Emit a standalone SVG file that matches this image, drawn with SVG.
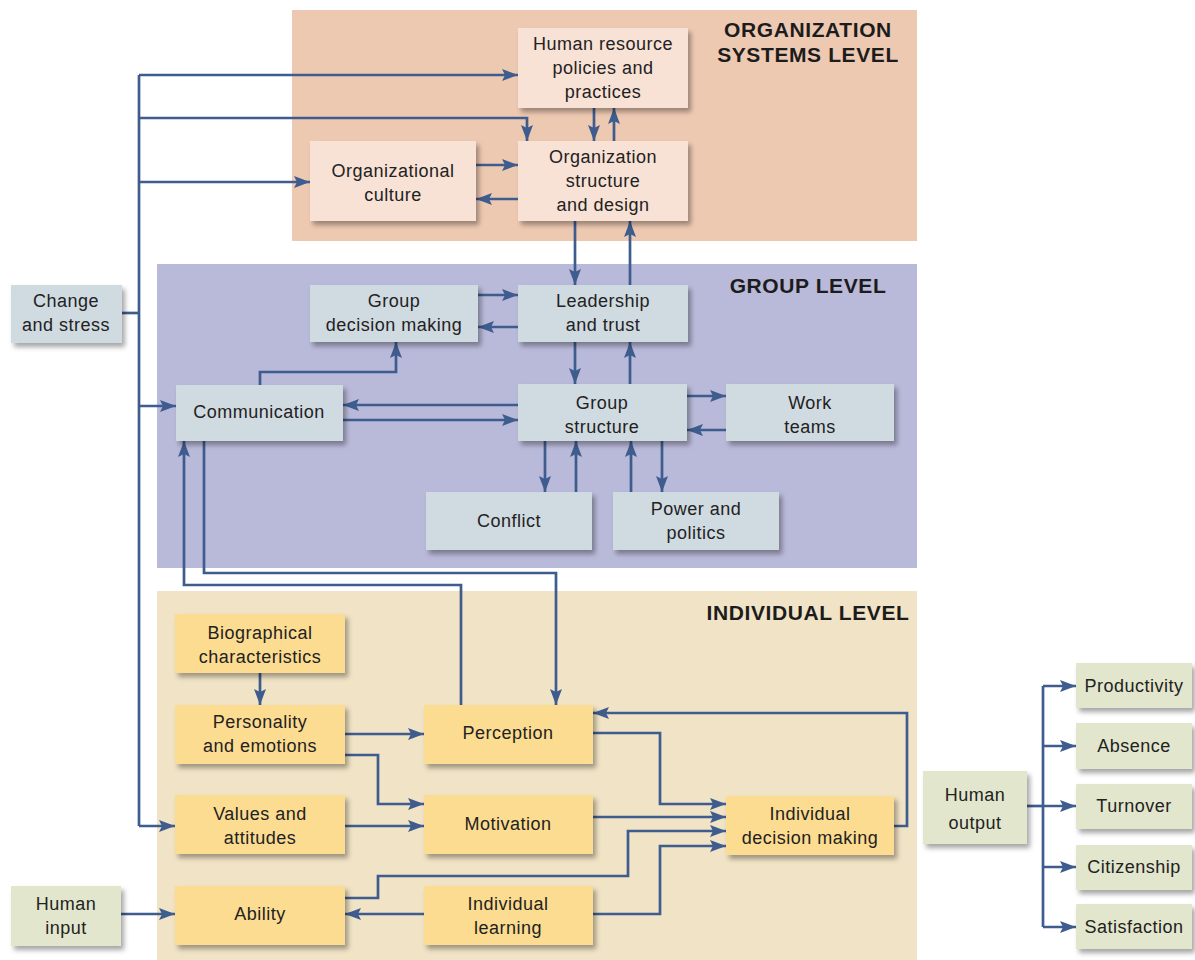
<svg xmlns="http://www.w3.org/2000/svg" width="1195" height="960" viewBox="0 0 1195 960">
  <style>
    .panel-org { fill: #EEC9B2; }
    .panel-grp { fill: #B9B9D9; }
    .panel-ind { fill: #F1E3C5; }
    .n-org rect { fill: #F8E1D5; }
    .n-grp rect { fill: #D0DAE1; }
    .n-ind rect { fill: #FCDC90; }
    .n-io rect { fill: #E2E6CC; }
    .node rect { filter: url(#shadow); }
    .node text { font-family: "Liberation Sans", Arial, sans-serif; font-size: 18px; fill: #222; text-anchor: middle; letter-spacing: 0.5px; }
    .title { font-family: "Liberation Sans", Arial, sans-serif; font-size: 21px; font-weight: bold; fill: #1c1c1c; text-anchor: middle; letter-spacing: 0.6px; }
    .conn path { fill: none; stroke: #3E5C8E; stroke-width: 2.7; }
    .conn path.a { marker-end: url(#arrow); }
  </style>
  <defs>
    <filter id="shadow" x="-10%" y="-10%" width="125%" height="135%">
      <feDropShadow dx="3" dy="4" stdDeviation="2.5" flood-color="#000" flood-opacity="0.35"/>
    </filter>
    <marker id="arrow" markerUnits="userSpaceOnUse" markerWidth="16" markerHeight="12" refX="16" refY="6" orient="auto">
      <path d="M0,0 L16,6 L0,12 L3,6 z" fill="#3E5C8E"/>
    </marker>
  </defs>

  <rect width="1195" height="960" fill="#ffffff"/>

  <!-- level panels -->
  <rect class="panel-org" x="292" y="10" width="625" height="231"/>
  <rect class="panel-grp" x="157" y="264" width="760" height="304"/>
  <rect class="panel-ind" x="157" y="591" width="760" height="369"/>

  <text class="title" x="808" y="37">ORGANIZATION</text>
  <text class="title" x="808" y="62">SYSTEMS LEVEL</text>
  <text class="title" x="808" y="293">GROUP LEVEL</text>
  <text class="title" x="808" y="620">INDIVIDUAL LEVEL</text>

  <!-- connectors -->
  <g id="connectors" class="conn">
    <!-- change and stress bus -->
    <path d="M122,313 H139"/>
    <path d="M139,75 V826"/>
    <path class="a" d="M139,75 H518"/>
    <path class="a" d="M139,118 H527 V141"/>
    <path class="a" d="M139,182 H310"/>
    <path class="a" d="M139,406 H176"/>
    <path class="a" d="M139,826 H175"/>

    <!-- organization level -->
    <path class="a" d="M594,108 V141"/>
    <path class="a" d="M614,141 V108"/>
    <path class="a" d="M476,165 H518"/>
    <path class="a" d="M518,199 H476"/>
    <path class="a" d="M575,221 V285"/>
    <path class="a" d="M630,285 V221"/>

    <!-- group level -->
    <path class="a" d="M478,295 H518"/>
    <path class="a" d="M518,327 H478"/>
    <path class="a" d="M575,342 V384"/>
    <path class="a" d="M630,384 V342"/>
    <path class="a" d="M260,385 V372 H396 V342"/>
    <path class="a" d="M518,405 H343"/>
    <path class="a" d="M343,420 H518"/>
    <path class="a" d="M687,396 H726"/>
    <path class="a" d="M726,430 H687"/>
    <path class="a" d="M545,441 V492"/>
    <path class="a" d="M576,492 V441"/>
    <path class="a" d="M631,492 V441"/>
    <path class="a" d="M662,441 V492"/>

    <!-- between group and individual -->
    <path class="a" d="M461,705 V585 H184 V441"/>
    <path class="a" d="M204,441 V573 H556 V705"/>

    <!-- individual level -->
    <path class="a" d="M260,673 V705"/>
    <path class="a" d="M345,734 H424"/>
    <path class="a" d="M345,755 H378 V804 H424"/>
    <path class="a" d="M345,826 H424"/>
    <path class="a" d="M593,733 H660 V804 H726"/>
    <path class="a" d="M593,817 H726"/>
    <path class="a" d="M345,898 H378 V876 H628 V831 H726"/>
    <path class="a" d="M593,914 H660 V846 H726"/>
    <path class="a" d="M894,826 H907 V713 H593"/>
    <path class="a" d="M424,914 H345"/>
    <path class="a" d="M121,914 H175"/>

    <!-- outputs -->
    <path d="M1027,806 H1043"/>
    <path d="M1043,686 V927"/>
    <path class="a" d="M1043,686 H1076"/>
    <path class="a" d="M1043,746 H1076"/>
    <path class="a" d="M1043,806 H1076"/>
    <path class="a" d="M1043,867 H1076"/>
    <path class="a" d="M1043,927 H1076"/>
  </g>

  <!-- organization systems level -->
  <g id="hr-policies" class="node n-org">
    <rect x="518" y="28" width="170" height="80"/>
    <text x="603" y="50">Human resource</text>
    <text x="603" y="74">policies and</text>
    <text x="603" y="98">practices</text>
  </g>
  <g id="org-structure" class="node n-org">
    <rect x="518" y="141" width="170" height="80"/>
    <text x="603" y="163">Organization</text>
    <text x="603" y="187">structure</text>
    <text x="603" y="211">and design</text>
  </g>
  <g id="org-culture" class="node n-org">
    <rect x="310" y="141" width="166" height="80"/>
    <text x="393" y="177">Organizational</text>
    <text x="393" y="201">culture</text>
  </g>

  <!-- change and stress -->
  <g id="change-stress" class="node n-grp">
    <rect x="11" y="285" width="111" height="58"/>
    <text x="66" y="307">Change</text>
    <text x="66" y="331">and stress</text>
  </g>

  <!-- group level -->
  <g id="group-decision" class="node n-grp">
    <rect x="310" y="285" width="168" height="57"/>
    <text x="394" y="307">Group</text>
    <text x="394" y="331">decision making</text>
  </g>
  <g id="leadership" class="node n-grp">
    <rect x="518" y="285" width="170" height="57"/>
    <text x="603" y="307">Leadership</text>
    <text x="603" y="331">and trust</text>
  </g>
  <g id="communication" class="node n-grp">
    <rect x="176" y="385" width="167" height="56"/>
    <text x="259" y="418">Communication</text>
  </g>
  <g id="group-structure" class="node n-grp">
    <rect x="518" y="384" width="169" height="57"/>
    <text x="602" y="409">Group</text>
    <text x="602" y="433">structure</text>
  </g>
  <g id="work-teams" class="node n-grp">
    <rect x="726" y="384" width="168" height="57"/>
    <text x="810" y="409">Work</text>
    <text x="810" y="433">teams</text>
  </g>
  <g id="conflict" class="node n-grp">
    <rect x="426" y="492" width="166" height="58"/>
    <text x="509" y="527">Conflict</text>
  </g>
  <g id="power-politics" class="node n-grp">
    <rect x="613" y="492" width="166" height="58"/>
    <text x="696" y="515">Power and</text>
    <text x="696" y="539">politics</text>
  </g>

  <!-- individual level -->
  <g id="biographical" class="node n-ind">
    <rect x="175" y="614" width="170" height="59"/>
    <text x="260" y="639">Biographical</text>
    <text x="260" y="663">characteristics</text>
  </g>
  <g id="personality" class="node n-ind">
    <rect x="175" y="705" width="170" height="59"/>
    <text x="260" y="728">Personality</text>
    <text x="260" y="752">and emotions</text>
  </g>
  <g id="perception" class="node n-ind">
    <rect x="424" y="705" width="169" height="59"/>
    <text x="508" y="739">Perception</text>
  </g>
  <g id="values" class="node n-ind">
    <rect x="175" y="795" width="170" height="59"/>
    <text x="260" y="820">Values and</text>
    <text x="260" y="844">attitudes</text>
  </g>
  <g id="motivation" class="node n-ind">
    <rect x="424" y="795" width="169" height="59"/>
    <text x="508" y="830">Motivation</text>
  </g>
  <g id="individual-decision" class="node n-ind">
    <rect x="726" y="796" width="168" height="59"/>
    <text x="810" y="820">Individual</text>
    <text x="810" y="844">decision making</text>
  </g>
  <g id="ability" class="node n-ind">
    <rect x="175" y="886" width="170" height="59"/>
    <text x="260" y="920">Ability</text>
  </g>
  <g id="individual-learning" class="node n-ind">
    <rect x="424" y="886" width="169" height="59"/>
    <text x="508" y="910">Individual</text>
    <text x="508" y="934">learning</text>
  </g>

  <!-- inputs and outputs -->
  <g id="human-input" class="node n-io">
    <rect x="11" y="886" width="110" height="60"/>
    <text x="66" y="910">Human</text>
    <text x="66" y="934">input</text>
  </g>
  <g id="human-output" class="node n-io">
    <rect x="923" y="771" width="104" height="73"/>
    <text x="975" y="801">Human</text>
    <text x="975" y="829">output</text>
  </g>
  <g id="productivity" class="node n-io">
    <rect x="1076" y="663" width="116" height="45"/>
    <text x="1134" y="692">Productivity</text>
  </g>
  <g id="absence" class="node n-io">
    <rect x="1076" y="723" width="116" height="46"/>
    <text x="1134" y="752">Absence</text>
  </g>
  <g id="turnover" class="node n-io">
    <rect x="1076" y="784" width="116" height="45"/>
    <text x="1134" y="812">Turnover</text>
  </g>
  <g id="citizenship" class="node n-io">
    <rect x="1076" y="845" width="116" height="45"/>
    <text x="1134" y="873">Citizenship</text>
  </g>
  <g id="satisfaction" class="node n-io">
    <rect x="1076" y="904" width="116" height="45"/>
    <text x="1134" y="933">Satisfaction</text>
  </g>
</svg>
